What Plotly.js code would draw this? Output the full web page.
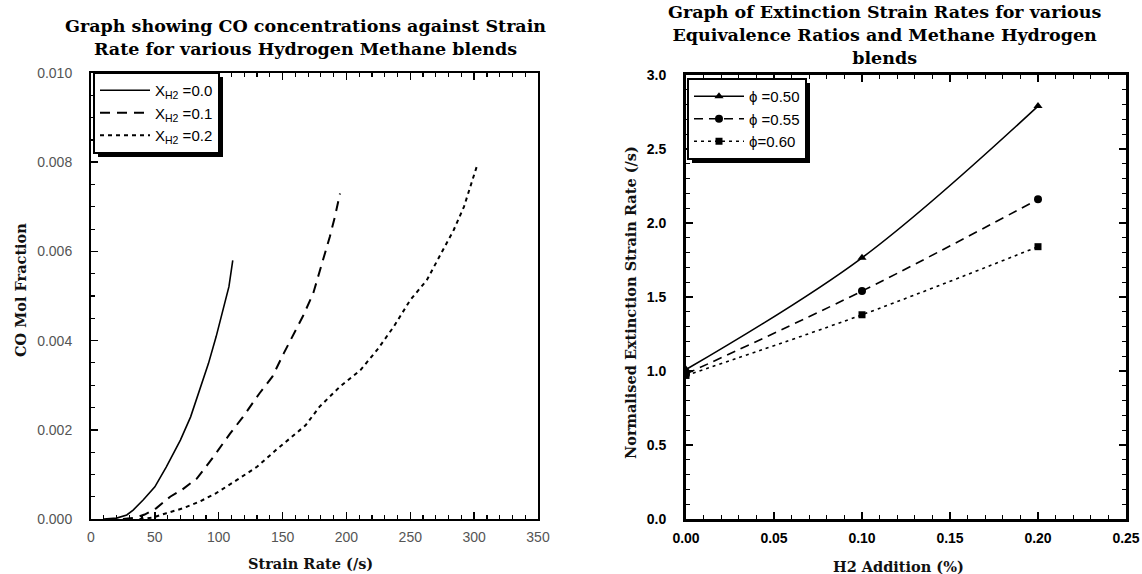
<!DOCTYPE html>
<html>
<head>
<meta charset="utf-8">
<script src="https://cdn.plot.ly/plotly-3.0.1.min.js"></script>
<style>html,body{margin:0;padding:0;background:#fff;}#chart{width:1142px;height:574px;}</style>
</head>
<body>
<div id="chart"></div>
<script>
// Left chart: CO mol fraction vs strain rate
var rateX00 = [10, 20, 28, 33, 41, 50, 59, 70, 78, 85, 92, 98, 104, 108, 111];
var coX00   = [0, 0.00002, 0.00009, 0.0002, 0.00043, 0.00072, 0.00117, 0.00177, 0.00229, 0.00289, 0.00349, 0.00409, 0.00476, 0.00521, 0.0058];
var rateX01 = [25, 35, 42, 51, 62, 71, 83, 96, 109, 119, 132, 142, 151, 159, 166, 174, 182, 187, 191, 195];
var coX01   = [0, 0.00003, 0.0001, 0.00024, 0.0005, 0.00065, 0.00091, 0.0014, 0.00192, 0.00229, 0.00282, 0.00319, 0.00372, 0.00416, 0.00455, 0.00506, 0.00581, 0.00633, 0.00678, 0.0073];
var rateX02 = [38, 48, 59, 72, 85, 98, 114, 130, 145, 158, 168, 179, 195, 211, 224, 237, 250, 263, 273, 284, 292, 298, 302];
var coX02   = [0, 0.00003, 0.00013, 0.00024, 0.00039, 0.00058, 0.00087, 0.00117, 0.00155, 0.00185, 0.0021, 0.00252, 0.00297, 0.00334, 0.00379, 0.00431, 0.00491, 0.00536, 0.00588, 0.00648, 0.007, 0.00753, 0.0079];
var leftNames = ["X<sub>H2</sub> =0.0", "X<sub>H2</sub> =0.1", "X<sub>H2</sub> =0.2"];

// Right chart: normalised extinction strain rate vs H2 addition
var h2Add = [0, 0.1, 0.2];
var phi050 = [1.01, 1.765, 2.79];
var phi055 = [0.98, 1.54, 2.16];
var phi060 = [0.97, 1.38, 1.84];
var rightNames = ["\u03d5 =0.50", "\u03d5 =0.55", "\u03d5=0.60"];

var traces = [
  {x: rateX00, y: coX00, name: leftNames[0], mode: 'lines', line: {color: '#000', width: 1.6}, xaxis: 'x', yaxis: 'y', legend: 'legend'},
  {x: rateX01, y: coX01, name: leftNames[1], mode: 'lines', line: {color: '#000', width: 2, dash: '10px,7px'}, xaxis: 'x', yaxis: 'y', legend: 'legend'},
  {x: rateX02, y: coX02, name: leftNames[2], mode: 'lines', line: {color: '#000', width: 2, dash: '4px,4px'}, xaxis: 'x', yaxis: 'y', legend: 'legend'},
  {x: h2Add, y: phi050, name: rightNames[0], mode: 'lines+markers', line: {color: '#000', width: 1.6, shape: 'spline'}, marker: {symbol: 'triangle-up', size: 8, color: '#000'}, xaxis: 'x2', yaxis: 'y2', legend: 'legend2'},
  {x: h2Add, y: phi055, name: rightNames[1], mode: 'lines+markers', line: {color: '#000', width: 1.6, dash: '9px,6px', shape: 'spline'}, marker: {symbol: 'circle', size: 8, color: '#000'}, xaxis: 'x2', yaxis: 'y2', legend: 'legend2'},
  {x: h2Add, y: phi060, name: rightNames[2], mode: 'lines+markers', line: {color: '#000', width: 1.6, dash: '3px,4px', shape: 'spline'}, marker: {symbol: 'square', size: 7, color: '#000'}, xaxis: 'x2', yaxis: 'y2', legend: 'legend2'}
];

var W = 1142, H = 574;
function px(v) { return v / W; }
function py(v) { return 1 - v / H; }

var serif = {family: 'DejaVu Serif', size: 17.5, color: '#000', weight: 'bold'};
var axisTitleFont = {family: 'DejaVu Serif', size: 14.5, color: '#111', weight: 'bold'};

var layout = {
  width: W, height: H,
  margin: {l: 0, r: 0, t: 0, b: 0},
  paper_bgcolor: '#fff', plot_bgcolor: '#fff',
  xaxis: {
    domain: [px(91), px(538)], range: [0, 350], dtick: 50, tick0: 0,
    showgrid: false, zeroline: false,
    showline: true, linecolor: '#000', linewidth: 2, mirror: 'ticks',
    ticks: 'inside', ticklen: 7, tickwidth: 1.5, tickcolor: '#000',
    minor: {dtick: 10, ticks: 'inside', ticklen: 4, tickwidth: 1.2, tickcolor: '#000'},
    tickfont: {family: 'Liberation Sans, Arial', size: 14, color: '#555'},
    ticklabelstandoff: 4,
    anchor: 'y'
  },
  yaxis: {
    domain: [py(519), py(73)], range: [0, 0.010], dtick: 0.002, tick0: 0, tickformat: '.3f',
    showgrid: false, zeroline: false,
    showline: true, linecolor: '#000', linewidth: 2, mirror: true,
    ticks: 'inside', ticklen: 7, tickwidth: 1.5, tickcolor: '#000',
    minor: {dtick: 0.0005, ticks: 'inside', ticklen: 4, tickwidth: 1.2, tickcolor: '#000'},
    tickfont: {family: 'Liberation Sans, Arial', size: 14, color: '#555'},
    ticklabelstandoff: 14,
    anchor: 'x'
  },
  xaxis2: {
    domain: [px(686), px(1126)], range: [0, 0.25], dtick: 0.05, tick0: 0, tickformat: '.2f',
    showgrid: false, zeroline: false,
    showline: true, linecolor: '#000', linewidth: 3, mirror: 'ticks',
    ticks: 'inside', ticklen: 7, tickwidth: 1.5, tickcolor: '#000',
    minor: {dtick: 0.01, ticks: 'inside', ticklen: 4, tickwidth: 1.2, tickcolor: '#000'},
    tickfont: {family: 'Liberation Sans, Arial', size: 14, color: '#000', weight: 'bold'},
    ticklabelstandoff: 4,
    anchor: 'y2'
  },
  yaxis2: {
    domain: [py(519), py(75)], range: [0, 3.0], dtick: 0.5, tick0: 0, tickformat: '.1f',
    showgrid: false, zeroline: false,
    showline: true, linecolor: '#000', linewidth: 3, mirror: 'ticks',
    ticks: 'inside', ticklen: 7, tickwidth: 1.5, tickcolor: '#000',
    minor: {dtick: 0.1, ticks: 'inside', ticklen: 4, tickwidth: 1.2, tickcolor: '#000'},
    tickfont: {family: 'Liberation Sans, Arial', size: 14, color: '#000', weight: 'bold'},
    ticklabelstandoff: 14,
    anchor: 'x2'
  },
  legend: {
    x: px(93), y: py(72), xanchor: 'left', yanchor: 'top',
    bgcolor: '#fff', bordercolor: '#000', borderwidth: 2,
    font: {family: 'Liberation Sans, Arial', size: 15, color: '#000'},
    tracegroupgap: 0, itemwidth: 50
  },
  legend2: {
    x: px(687), y: py(78), xanchor: 'left', yanchor: 'top',
    bgcolor: '#fff', bordercolor: '#000', borderwidth: 2,
    font: {family: 'Liberation Sans, Arial', size: 15, color: '#000'},
    tracegroupgap: 0, itemwidth: 50
  },
  showlegend: true,
  annotations: [
    {text: 'Graph showing CO concentrations against Strain<br>Rate for various Hydrogen Methane blends', x: px(305), y: py(37), xref: 'paper', yref: 'paper', xanchor: 'center', yanchor: 'middle', showarrow: false, font: serif, align: 'center'},
    {text: 'Graph of Extinction Strain Rates for various<br>Equivalence Ratios and Methane Hydrogen<br>blends', x: px(884), y: py(35), xref: 'paper', yref: 'paper', xanchor: 'center', yanchor: 'middle', showarrow: false, font: serif, align: 'center'},
    {text: 'Strain Rate (/s)', x: px(310), y: py(563), xref: 'paper', yref: 'paper', xanchor: 'center', yanchor: 'middle', showarrow: false, font: axisTitleFont},
    {text: 'H2 Addition (%)', x: px(898), y: py(566), xref: 'paper', yref: 'paper', xanchor: 'center', yanchor: 'middle', showarrow: false, font: axisTitleFont},
    {text: 'CO Mol Fraction', x: px(20), y: py(290), xref: 'paper', yref: 'paper', xanchor: 'center', yanchor: 'middle', textangle: -90, showarrow: false, font: axisTitleFont},
    {text: 'Normalised Extinction Strain Rate (/s)', x: px(630), y: py(303), xref: 'paper', yref: 'paper', xanchor: 'center', yanchor: 'middle', textangle: -90, showarrow: false, font: axisTitleFont}
  ]
};

Plotly.newPlot('chart', traces, layout, {displayModeBar: false, staticPlot: true}).then(function (gd) {
  // drop shadows behind the two legend boxes only
  var root = gd.getBoundingClientRect();
  var shapes = [];
  var bgs = gd.querySelectorAll('.infolayer > g.legend > rect.bg, .infolayer > g.legend2 > rect.bg');
  bgs.forEach(function (r) {
    var b = r.getBoundingClientRect();
    var x0 = b.left - root.left + 4, x1 = b.right - root.left + 4;
    var y0 = b.top - root.top + 4, y1 = b.bottom - root.top + 4;
    shapes.push({type: 'rect', xref: 'paper', yref: 'paper', layer: 'above',
      x0: px(x0), x1: px(x1), y0: py(y1), y1: py(y0),
      fillcolor: '#000', line: {width: 0}});
  });
  return Plotly.relayout(gd, {shapes: shapes});
});
</script>
</body>
</html>
